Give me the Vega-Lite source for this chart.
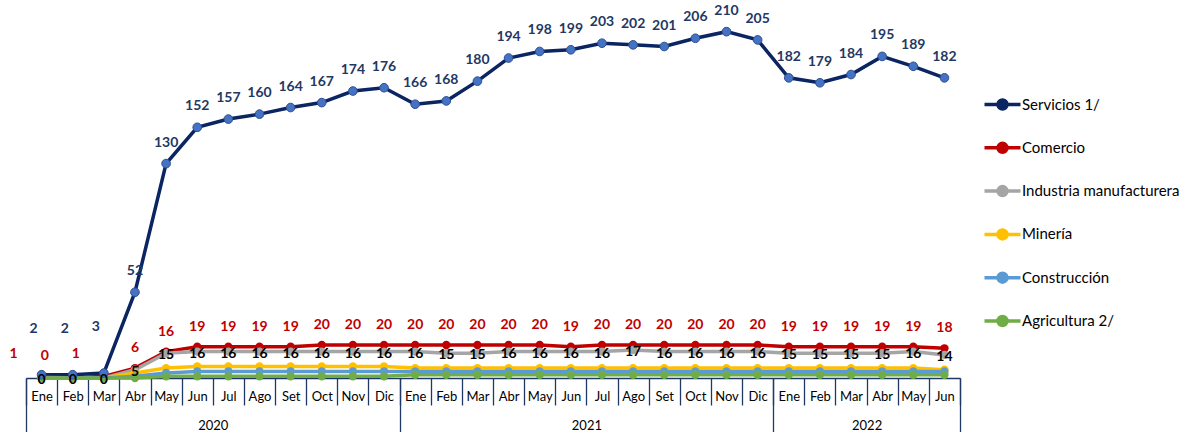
{
  "$schema": "https://vega.github.io/schema/vega-lite/v6.json",
  "autosize": "none",
  "width": 934,
  "height": 378,
  "padding": {"left": 26, "top": 0, "right": 227, "bottom": 54},
  "background": "white",
  "config": {"view": {"stroke": null}, "font": "Lato"},
  "data": {
    "values": [
      {"i": 0, "Servicios 1/": 2, "Comercio": 1, "Industria manufacturera": 0, "Minería": 0, "Construcción": 0, "Agricultura 2/": 0},
      {"i": 1, "Servicios 1/": 2, "Comercio": 0, "Industria manufacturera": 0, "Minería": 0, "Construcción": 0, "Agricultura 2/": 0},
      {"i": 2, "Servicios 1/": 3, "Comercio": 1, "Industria manufacturera": 0, "Minería": 0, "Construcción": 0, "Agricultura 2/": 0},
      {"i": 3, "Servicios 1/": 52, "Comercio": 6, "Industria manufacturera": 5, "Minería": 3, "Construcción": 1, "Agricultura 2/": 0},
      {"i": 4, "Servicios 1/": 130, "Comercio": 16, "Industria manufacturera": 15, "Minería": 6, "Construcción": 3, "Agricultura 2/": 1},
      {"i": 5, "Servicios 1/": 152, "Comercio": 19, "Industria manufacturera": 16, "Minería": 7, "Construcción": 4, "Agricultura 2/": 1},
      {"i": 6, "Servicios 1/": 157, "Comercio": 19, "Industria manufacturera": 16, "Minería": 7, "Construcción": 4, "Agricultura 2/": 1},
      {"i": 7, "Servicios 1/": 160, "Comercio": 19, "Industria manufacturera": 16, "Minería": 7, "Construcción": 4, "Agricultura 2/": 1},
      {"i": 8, "Servicios 1/": 164, "Comercio": 19, "Industria manufacturera": 16, "Minería": 7, "Construcción": 4, "Agricultura 2/": 1},
      {"i": 9, "Servicios 1/": 167, "Comercio": 20, "Industria manufacturera": 16, "Minería": 7, "Construcción": 4, "Agricultura 2/": 1},
      {"i": 10, "Servicios 1/": 174, "Comercio": 20, "Industria manufacturera": 16, "Minería": 7, "Construcción": 4, "Agricultura 2/": 1},
      {"i": 11, "Servicios 1/": 176, "Comercio": 20, "Industria manufacturera": 16, "Minería": 7, "Construcción": 4, "Agricultura 2/": 1},
      {"i": 12, "Servicios 1/": 166, "Comercio": 20, "Industria manufacturera": 16, "Minería": 6, "Construcción": 4, "Agricultura 2/": 2},
      {"i": 13, "Servicios 1/": 168, "Comercio": 20, "Industria manufacturera": 15, "Minería": 6, "Construcción": 4, "Agricultura 2/": 2},
      {"i": 14, "Servicios 1/": 180, "Comercio": 20, "Industria manufacturera": 15, "Minería": 6, "Construcción": 4, "Agricultura 2/": 2},
      {"i": 15, "Servicios 1/": 194, "Comercio": 20, "Industria manufacturera": 16, "Minería": 6, "Construcción": 4, "Agricultura 2/": 2},
      {"i": 16, "Servicios 1/": 198, "Comercio": 20, "Industria manufacturera": 16, "Minería": 6, "Construcción": 4, "Agricultura 2/": 2},
      {"i": 17, "Servicios 1/": 199, "Comercio": 19, "Industria manufacturera": 16, "Minería": 6, "Construcción": 4, "Agricultura 2/": 2},
      {"i": 18, "Servicios 1/": 203, "Comercio": 20, "Industria manufacturera": 16, "Minería": 6, "Construcción": 4, "Agricultura 2/": 2},
      {"i": 19, "Servicios 1/": 202, "Comercio": 20, "Industria manufacturera": 17, "Minería": 6, "Construcción": 4, "Agricultura 2/": 2},
      {"i": 20, "Servicios 1/": 201, "Comercio": 20, "Industria manufacturera": 16, "Minería": 6, "Construcción": 4, "Agricultura 2/": 2},
      {"i": 21, "Servicios 1/": 206, "Comercio": 20, "Industria manufacturera": 16, "Minería": 6, "Construcción": 4, "Agricultura 2/": 2},
      {"i": 22, "Servicios 1/": 210, "Comercio": 20, "Industria manufacturera": 16, "Minería": 6, "Construcción": 4, "Agricultura 2/": 2},
      {"i": 23, "Servicios 1/": 205, "Comercio": 20, "Industria manufacturera": 16, "Minería": 6, "Construcción": 4, "Agricultura 2/": 2},
      {"i": 24, "Servicios 1/": 182, "Comercio": 19, "Industria manufacturera": 15, "Minería": 6, "Construcción": 4, "Agricultura 2/": 2},
      {"i": 25, "Servicios 1/": 179, "Comercio": 19, "Industria manufacturera": 15, "Minería": 6, "Construcción": 4, "Agricultura 2/": 2},
      {"i": 26, "Servicios 1/": 184, "Comercio": 19, "Industria manufacturera": 15, "Minería": 6, "Construcción": 4, "Agricultura 2/": 2},
      {"i": 27, "Servicios 1/": 195, "Comercio": 19, "Industria manufacturera": 15, "Minería": 6, "Construcción": 4, "Agricultura 2/": 2},
      {"i": 28, "Servicios 1/": 189, "Comercio": 19, "Industria manufacturera": 16, "Minería": 6, "Construcción": 4, "Agricultura 2/": 2},
      {"i": 29, "Servicios 1/": 182, "Comercio": 18, "Industria manufacturera": 14, "Minería": 5, "Construcción": 4, "Agricultura 2/": 2}
    ]
  },
  "transform": [
    {"fold": ["Servicios 1/", "Comercio", "Industria manufacturera", "Minería", "Construcción", "Agricultura 2/"], "as": ["s", "v"]}
  ],
  "resolve": {"axis": {"x": "independent"}},
  "layer": [
    {
      "mark": {"type": "line", "strokeWidth": 3.5},
      "encoding": {
        "x": {"field": "i", "type": "quantitative", "scale": {"domain": [-0.5, 29.5], "nice": false, "zero": false},
          "axis": {"orient": "bottom", "title": null, "grid": false,
            "values": [-0.5, 0.5, 1.5, 2.5, 3.5, 4.5, 5.5, 6.5, 7.5, 8.5, 9.5, 10.5, 11.5, 12.5, 13.5, 14.5, 15.5, 16.5, 17.5, 18.5, 19.5, 20.5, 21.5, 22.5, 23.5, 24.5, 25.5, 26.5, 27.5, 28.5, 29.5],
            "labelExpr": "datum.value > 29 ? '' : ['Ene','Feb','Mar','Abr','May','Jun','Jul','Ago','Set','Oct','Nov','Dic'][(datum.value + 0.5) % 12]",
            "labelOffset": 15.57, "labelAlign": "center", "labelBaseline": "middle", "labelPadding": -9,
            "labelFlush": false, "labelOverlap": false, "labelBound": false,
            "labelFont": "Lato", "labelFontSize": 13, "labelColor": "#000000",
            "tickSize": 27, "tickColor": "#1F3864", "tickWidth": 1.3,
            "domainColor": "#1F3864", "domainWidth": 1.5}},
        "y": {"field": "v", "type": "quantitative", "scale": {"domain": [0, 229.2], "nice": false, "zero": true}, "axis": null},
        "strokeWidth": {"condition": {"test": "datum.s == 'Industria manufacturera'", "value": 5}, "value": 3.5},
        "color": {"field": "s", "type": "nominal",
          "scale": {"domain": ["Servicios 1/", "Comercio", "Industria manufacturera", "Minería", "Construcción", "Agricultura 2/"],
                    "range": ["#0B2462", "#C00000", "#A5A5A5", "#FFC000", "#5B9BD5", "#70AD47"]},
          "legend": {"title": null, "orient": "none", "legendX": 969, "legendY": 97, "direction": "vertical", "padding": 0,
            "symbolType": "M-3.6,0H3.6M-0.9,0A0.9,0.9,0,1,1,0.9,0A0.9,0.9,0,1,1,-0.9,0Z",
            "symbolSize": 100, "symbolStrokeWidth": 3.5, "labelOffset": 12, "rowPadding": 20.3,
            "labelFont": "Lato", "labelFontSize": 15, "labelColor": "#000000",
            "encode": {"symbols": {"update": {"fill": {"scale": "color", "field": "value"}, "stroke": {"scale": "color", "field": "value"}}}}}}
      }
    },
    {
      "transform": [{"filter": "datum.s != 'Servicios 1/'"}],
      "mark": {"type": "point", "filled": true, "size": 70, "opacity": 1},
      "encoding": {
        "x": {"field": "i", "type": "quantitative",
          "axis": {"orient": "bottom", "title": null, "grid": false, "values": [-0.5, 11.5, 23.5, 29.5], "labels": false,
            "domain": false, "tickSize": 55, "tickColor": "#1F3864", "tickWidth": 1.3}},
        "y": {"field": "v", "type": "quantitative"},
        "color": {"field": "s", "type": "nominal"}
      }
    },
    {
      "transform": [{"filter": "datum.s == 'Servicios 1/'"}],
      "mark": {"type": "point", "filled": true, "size": 75, "opacity": 1, "fill": "#4472C4", "stroke": "#2F4F8F", "strokeWidth": 1},
      "encoding": {
        "x": {"field": "i", "type": "quantitative",
          "axis": {"orient": "bottom", "title": null, "grid": false, "values": [5.5, 17.5, 26.5], "labelExpr": "datum.value < 10 ? '2020' : datum.value < 20 ? '2021' : '2022'",
            "domain": false, "ticks": false, "labelPadding": 47, "labelBaseline": "middle", "labelFlush": false, "labelOverlap": false,
            "labelFont": "Lato", "labelFontSize": 13, "labelColor": "#000000"}},
        "y": {"field": "v", "type": "quantitative"}
      }
    },
    {
      "transform": [{"filter": "datum.s == 'Servicios 1/' && datum.i >= 3"}],
      "mark": {"type": "text", "dy": -21, "font": "Lato", "fontSize": 14, "fontWeight": "bold", "color": "#1F3864", "baseline": "middle"},
      "encoding": {
        "x": {"field": "i", "type": "quantitative", "axis": null},
        "y": {"field": "v", "type": "quantitative"},
        "text": {"field": "v", "type": "quantitative"}
      }
    },
    {
      "transform": [{"filter": "datum.s == 'Servicios 1/' && datum.i < 3"}],
      "mark": {"type": "text", "dx": -8, "dy": -46, "font": "Lato", "fontSize": 14, "fontWeight": "bold", "color": "#1F3864", "baseline": "middle"},
      "encoding": {
        "x": {"field": "i", "type": "quantitative", "axis": null},
        "y": {"field": "v", "type": "quantitative"},
        "text": {"field": "v", "type": "quantitative"}
      }
    },
    {
      "transform": [{"filter": "datum.s == 'Comercio' && datum.i >= 3"}],
      "mark": {"type": "text", "dy": -20, "font": "Lato", "fontSize": 14, "fontWeight": "bold", "color": "#C00000", "baseline": "middle"},
      "encoding": {
        "x": {"field": "i", "type": "quantitative", "axis": null},
        "y": {"field": "v", "type": "quantitative"},
        "text": {"field": "v", "type": "quantitative"}
      }
    },
    {
      "transform": [{"filter": "datum.s == 'Comercio' && datum.i < 3"}],
      "mark": {"type": "text", "dx": -28, "dy": -22, "font": "Lato", "fontSize": 14, "fontWeight": "bold", "color": "#C00000", "baseline": "middle"},
      "encoding": {
        "x": {"field": "i", "type": "quantitative", "axis": null},
        "y": {"field": "v", "type": "quantitative"},
        "text": {"field": "v", "type": "quantitative"}
      }
    },
    {
      "transform": [{"filter": "datum.s == 'Industria manufacturera'"}],
      "mark": {"type": "text", "dy": 2, "font": "Lato", "fontSize": 14, "fontWeight": "bold", "color": "#000000", "baseline": "middle"},
      "encoding": {
        "x": {"field": "i", "type": "quantitative", "axis": null},
        "y": {"field": "v", "type": "quantitative"},
        "text": {"field": "v", "type": "quantitative"}
      }
    }
  ]
}
